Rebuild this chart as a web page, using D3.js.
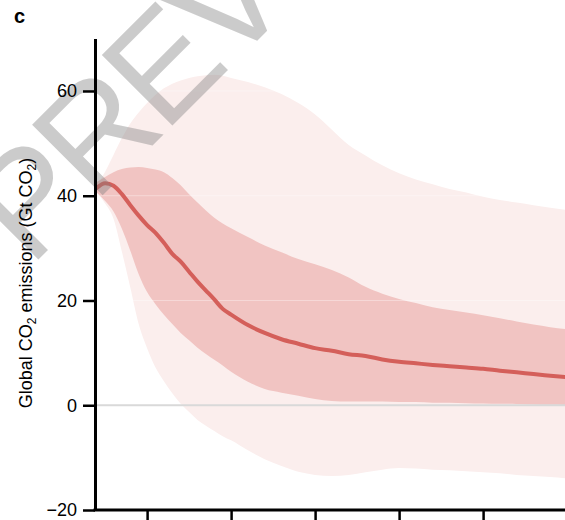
<!DOCTYPE html>
<html>
<head>
<meta charset="utf-8">
<script src="https://cdn.jsdelivr.net/npm/d3@7/dist/d3.min.js"></script>
<style>
  html, body { margin: 0; padding: 0; background: #fff; }
  svg { display: block; }
  text { font-family: "Liberation Sans", Arial, Helvetica, sans-serif; }
</style>
</head>
<body>
<svg id="chart" width="565" height="520"></svg>
<script>
// Global CO2 emissions pathways: median with inner and outer ranges (Gt CO2)
const years = [2024, 2025, 2026, 2027, 2028, 2029, 2030, 2031, 2032, 2033, 2034, 2035,
  2036, 2037, 2038, 2039, 2040, 2042, 2044, 2046, 2048, 2050, 2052, 2054, 2056, 2058,
  2060, 2062, 2064, 2066, 2068, 2070, 2072, 2074, 2076, 2078, 2080];

const median = [41.5, 42.4, 41.9, 40.3, 38.2, 36.2, 34.4, 32.9, 31.0, 28.9, 27.4, 25.5,
  23.6, 21.9, 20.2, 18.4, 17.3, 15.3, 13.8, 12.6, 11.75, 10.9, 10.4, 9.75, 9.4, 8.75,
  8.3, 8.0, 7.7, 7.45, 7.2, 6.95, 6.6, 6.3, 5.95, 5.65, 5.35];

const innerHigh = [42.6, 43.6, 44.5, 45.1, 45.4, 45.5, 45.3, 45.0, 44.5, 43.4, 42.0, 40.3,
  38.7, 37.2, 35.8, 34.7, 33.8, 32.1, 30.5, 29.2, 27.9, 26.9, 25.8, 24.4, 22.6, 21.3,
  20.3, 19.5, 18.7, 18.2, 17.7, 17.2, 16.6, 16.0, 15.4, 14.9, 14.5];

const innerLow = [40.6, 39.0, 37.0, 33.7, 29.5, 25.0, 21.6, 19.3, 17.3, 15.5, 13.8, 12.4,
  11.0, 9.8, 8.7, 7.6, 6.4, 4.5, 3.1, 2.4, 1.8, 1.2, 0.8, 0.7, 0.7, 0.7,
  0.6, 0.6, 0.5, 0.5, 0.4, 0.35, 0.3, 0.25, 0.15, 0.1, 0.05];

const outerHigh = [42.0, 44.6, 47.8, 51.0, 53.8, 55.9, 57.7, 59.3, 60.5, 61.4, 62.0, 62.5,
  62.8, 63.0, 63.1, 62.9, 62.5, 61.7, 60.7, 59.4, 57.7, 55.5, 52.6, 49.7, 47.7, 45.8,
  44.3, 43.1, 42.2, 41.3, 40.6, 39.8, 39.2, 38.7, 38.2, 37.7, 37.3];

const outerLow = [40.6, 38.5, 35.6, 29.3, 22.5, 15.5, 10.9, 7.2, 4.6, 2.3, 0.3, -1.3,
  -2.8, -3.9, -4.9, -5.9, -6.7, -8.6, -10.3, -11.6, -12.7, -13.3, -13.5, -13.3, -12.8, -12.3,
  -12.0, -12.1, -12.3, -12.4, -12.6, -12.8, -13.0, -13.3, -13.5, -13.7, -13.95];

const yTicks = [-20, 0, 20, 40, 60];
const xTicks = [2030, 2040, 2050, 2060, 2070];
const gridValues = [20, 40, 60];

const svg = d3.select("#chart");
const axisX = 95, axisBottom = 510;

const x = d3.scaleLinear().domain([2024, 2080]).range([96.7, 567.1]);
const y = d3.scaleLinear().domain([-20, 70]).range([510, 38.6]);

const rows = years.map((yr, i) => ({
  yr, med: median[i], iHi: innerHigh[i], iLo: innerLow[i], oHi: outerHigh[i], oLo: outerLow[i]
}));

const plot = svg.append("g");

// outer range
plot.append("path")
  .datum(rows)
  .attr("fill", "#fbeeed")
  .attr("d", d3.area().curve(d3.curveMonotoneX)
    .x(d => x(d.yr)).y0(d => y(d.oLo)).y1(d => y(d.oHi)));

// inner range
plot.append("path")
  .datum(rows)
  .attr("fill", "#f1c4c2")
  .attr("d", d3.area().curve(d3.curveMonotoneX)
    .x(d => x(d.yr)).y0(d => y(d.iLo)).y1(d => y(d.iHi)));

// faint gridlines
plot.selectAll("line.grid")
  .data(gridValues)
  .join("line")
  .attr("class", "grid")
  .attr("x1", axisX).attr("x2", 565)
  .attr("y1", d => y(d)).attr("y2", d => y(d))
  .attr("stroke", "#ffffff")
  .attr("stroke-opacity", 0.35)
  .attr("stroke-width", 1);

// zero line
plot.append("line")
  .attr("x1", axisX).attr("x2", 565)
  .attr("y1", y(0)).attr("y2", y(0))
  .attr("stroke", "#d9d9d9")
  .attr("stroke-width", 2);

// watermark
svg.append("g")
  .attr("opacity", 0.4)
  .append("text")
  .attr("transform", "translate(30,268) rotate(-45)")
  .attr("font-size", 145)
  .attr("letter-spacing", -6)
  .attr("fill", "#808080")
  .text("PREVIEW");

// median pathway
plot.append("path")
  .datum(rows)
  .attr("fill", "none")
  .attr("stroke", "#d45f5a")
  .attr("stroke-width", 4)
  .attr("stroke-linecap", "round")
  .attr("d", d3.line().curve(d3.curveMonotoneX)
    .x(d => x(d.yr)).y(d => y(d.med)));

// y axis
const gy = svg.append("g")
  .attr("transform", `translate(${axisX},0)`)
  .call(d3.axisLeft(y).tickValues(yTicks).tickSize(12).tickSizeOuter(0).tickPadding(6)
    .tickFormat(d => d < 0 ? "\u2212" + Math.abs(d) : d));
gy.select(".domain").attr("stroke", "#000").attr("stroke-width", 3);
gy.selectAll(".tick line").attr("stroke", "#000").attr("stroke-width", 2.5);
gy.selectAll(".tick text").attr("font-size", 18).attr("fill", "#000")
  .attr("font-family", "'Liberation Sans', Arial, sans-serif");

// x axis
const gx = svg.append("g")
  .attr("transform", `translate(0,${axisBottom})`)
  .call(d3.axisBottom(x).tickValues(xTicks).tickSize(14).tickSizeOuter(0).tickFormat(() => ""));
gx.select(".domain").attr("d", `M${axisX - 1.5},0H565`).attr("stroke", "#000").attr("stroke-width", 3);
gx.selectAll(".tick line").attr("stroke", "#000").attr("stroke-width", 2.5);
gx.selectAll(".tick text").remove();

// y axis title
const title = svg.append("text")
  .attr("transform", "translate(32,283) rotate(-90)")
  .attr("text-anchor", "middle")
  .attr("font-size", 18)
  .attr("fill", "#000");
title.append("tspan").text("Global CO");
title.append("tspan").attr("font-size", 12).attr("dy", 4).text("2");
title.append("tspan").attr("dy", -4).text(" emissions (Gt CO");
title.append("tspan").attr("font-size", 12).attr("dy", 4).text("2");
title.append("tspan").attr("dy", -4).text(")");

// panel label
svg.append("text")
  .attr("x", 14).attr("y", 23)
  .attr("font-size", 20)
  .attr("font-weight", "bold")
  .attr("fill", "#000")
  .text("c");
</script>
</body>
</html>
